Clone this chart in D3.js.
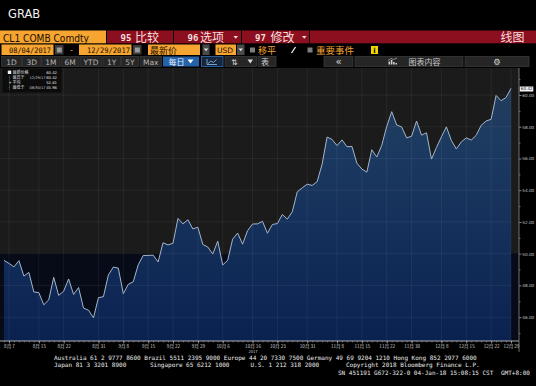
<!DOCTYPE html>
<html>
<head>
<meta charset="utf-8">
<script src="https://cdn.jsdelivr.net/npm/d3@7"></script>
<style>
  html, body { margin: 0; padding: 0; background: #000; }
  svg { display: block; }
  text { font-family: "DejaVu Sans", "Noto Sans CJK SC", sans-serif; }
  .cjk { font-family: "Noto Sans CJK SC", "DejaVu Sans", sans-serif; }
  .mono { font-family: "DejaVu Sans Mono", "Liberation Mono", monospace; }
</style>
</head>
<body>
<svg width="536" height="386"></svg>
<script>

// DATA

var dates = [
  "2017-08-04", "2017-08-07", "2017-08-08", "2017-08-09", "2017-08-10", "2017-08-11",
  "2017-08-14", "2017-08-15", "2017-08-16", "2017-08-17", "2017-08-18",
  "2017-08-21", "2017-08-22", "2017-08-23", "2017-08-24", "2017-08-25",
  "2017-08-28", "2017-08-29", "2017-08-30", "2017-08-31", "2017-09-01",
  "2017-09-05", "2017-09-06", "2017-09-07", "2017-09-08",
  "2017-09-11", "2017-09-12", "2017-09-13", "2017-09-14", "2017-09-15",
  "2017-09-18", "2017-09-19", "2017-09-20", "2017-09-21", "2017-09-22",
  "2017-09-25", "2017-09-26", "2017-09-27", "2017-09-28", "2017-09-29",
  "2017-10-02", "2017-10-03", "2017-10-04", "2017-10-05", "2017-10-06",
  "2017-10-09", "2017-10-10", "2017-10-11", "2017-10-12", "2017-10-13",
  "2017-10-16", "2017-10-17", "2017-10-18", "2017-10-19", "2017-10-20",
  "2017-10-23", "2017-10-24", "2017-10-25", "2017-10-26", "2017-10-27",
  "2017-10-30", "2017-10-31", "2017-11-01", "2017-11-02", "2017-11-03",
  "2017-11-06", "2017-11-07", "2017-11-08", "2017-11-09", "2017-11-10",
  "2017-11-13", "2017-11-14", "2017-11-15", "2017-11-16", "2017-11-17",
  "2017-11-20", "2017-11-21", "2017-11-22", "2017-11-24",
  "2017-11-27", "2017-11-28", "2017-11-29", "2017-11-30", "2017-12-01",
  "2017-12-04", "2017-12-05", "2017-12-06", "2017-12-07", "2017-12-08",
  "2017-12-11", "2017-12-12", "2017-12-13", "2017-12-14", "2017-12-15",
  "2017-12-18", "2017-12-19", "2017-12-20", "2017-12-21", "2017-12-22",
  "2017-12-26", "2017-12-27", "2017-12-28", "2017-12-29"
];

var prices = [
  49.58, 49.39, 49.17, 49.56, 48.59, 48.82,
  47.59, 47.55, 46.78, 47.09, 48.51,
  47.37, 47.64, 48.41, 47.43, 47.87,
  46.57, 46.44, 45.96, 47.23, 47.29,
  48.66, 49.16, 49.09, 47.48,
  48.07, 48.23, 49.30, 49.89, 49.89,
  49.91, 49.48, 50.69, 50.55, 50.66,
  52.22, 51.88, 52.14, 51.56, 51.67,
  50.58, 50.42, 49.98, 50.79, 49.29,
  49.58, 50.92, 51.30, 50.60, 51.45,
  51.87, 51.88, 52.04, 51.29, 51.84,
  51.90, 52.47, 52.18, 52.64, 53.90,
  54.15, 54.38, 54.30, 54.54, 55.64,
  57.35, 57.20, 56.81, 57.17, 56.74,
  56.76, 55.70, 55.33, 55.14, 56.55,
  56.09, 56.83, 58.02, 58.95,
  58.11, 57.99, 57.30, 57.40, 58.36,
  57.47, 57.62, 55.96, 56.69, 57.36,
  57.99, 57.14, 56.60, 57.04, 57.30,
  57.16, 57.46, 58.09, 58.36, 58.47,
  59.97, 59.64, 59.84, 60.42
];

var tickDates = [
  "2017-08-07", "2017-08-15", "2017-08-22", "2017-08-31", "2017-09-08", "2017-09-15",
  "2017-09-22", "2017-09-29", "2017-10-06", "2017-10-16", "2017-10-23", "2017-10-31",
  "2017-11-08", "2017-11-15", "2017-11-22", "2017-11-30", "2017-12-08", "2017-12-15",
  "2017-12-22", "2017-12-29"
];
var tickLabels = [
  "8月 7", "8月 15", "8月 22", "8月 31", "9月 8", "9月 15",
  "9月 22", "9月 29", "10月 6", "10月 16", "10月 23", "10月 31",
  "11月 8", "11月 15", "11月 22", "11月 30", "12月 8", "12月 15",
  "12月 22", "12月 29"
];
var yearLabel = "2017", yearAt = "2017-10-16";

var yTicks = [46, 48, 50, 52, 54, 56, 58, 60];
var yMinorTicks = [45, 47, 49, 51, 53, 55, 57, 59, 61];

var legendNames = ["最新价格", "最高于", "平均", "最低于"];
var legendDates = ["", "12/29/17", "", "08/30/17"];
var legendValues = [60.42, 60.42, 52.81, 45.96];
var lastValue = 60.42;


// SETUP

var svg = d3.select("svg"),
    plot = { left: 0, right: 519, top: 68, bottom: 341, dataLeft: 4, dataRight: 511 };

var x = d3.scaleLinear()
    .domain([0, prices.length - 1])
    .range([plot.dataLeft, plot.dataRight]);

var y = d3.scaleLinear()
    .domain([44.5, 61.7])
    .range([plot.bottom, plot.top]);

svg.append("rect").attr("width", 536).attr("height", 386).attr("fill", "#000");

function box(x0, y0, w, h, fill, stroke) {
    return svg.append("rect")
        .attr("x", x0).attr("y", y0).attr("width", w).attr("height", h)
        .attr("fill", fill)
        .attr("stroke", stroke || "none")
        .attr("stroke-width", stroke ? 0.8 : 0);
}

function label(x0, y0, s, size, fill, cls, extra) {
    var t = svg.append("text")
        .attr("x", x0).attr("y", y0)
        .attr("font-size", size)
        .attr("fill", fill)
        .text(s);
    if (cls) t.attr("class", cls);
    if (extra) extra(t);
    return t;
}

function caret(x0, y0, fill) {
    svg.append("path")
        .attr("d", "M" + x0 + "," + y0 + "l4.5,0l-2.25,2.8z")
        .attr("fill", fill || "#fff");
}

function num(t) { t.attr("font-weight", "bold").attr("class", "mono"); }


// TOOLBAR

label(8, 18, "GRAB", 11.5, "#f2f2f2");

// row 1
box(0, 30.5, 106, 12.8, "#f7a531");
label(3, 41.5, "CL1 COMB Comdty", 10.5, "#1a0e00", null, function (t) {
    t.attr("textLength", 86).attr("lengthAdjust", "spacingAndGlyphs");
});
box(107, 30.5, 66, 12.8, "#8c0f1f");
label(120.5, 40.8, "95", 9, "#f7dede", null, num);
label(135, 41.5, "比较", 12, "#f7dede", "cjk");
box(174, 30.5, 67, 12.8, "#8c0f1f");
label(187.5, 40.8, "96", 9, "#f7dede", null, num);
label(200, 41.5, "选项", 12, "#f7dede", "cjk");
caret(233.5, 36, "#f7dede");
box(242, 30.5, 67, 12.8, "#8c0f1f");
label(255, 40.8, "97", 9, "#f7dede", null, num);
label(270.5, 41.5, "修改", 12, "#f7dede", "cjk");
caret(302, 36, "#f7dede");
box(310, 30.5, 226, 12.8, "#8c0f1f");
label(500.5, 41.5, "线图", 12, "#f7dede", "cjk");

// row 2
box(1.5, 44.5, 52, 10.5, "#f7a531");
label(9, 52.8, "08/04/2017", 7.5, "#1a0e00", "mono", function (t) {
    t.attr("textLength", 42).attr("lengthAdjust", "spacingAndGlyphs");
});
box(55, 45, 8.5, 9.5, "#3b3b3b");
box(56.8, 47.5, 5, 5, "#9a9a9a");
label(70, 52.5, "-", 8, "#f7a531");
box(79, 44.5, 52.5, 10.5, "#f7a531");
label(87, 52.8, "12/29/2017", 7.5, "#1a0e00", "mono", function (t) {
    t.attr("textLength", 43).attr("lengthAdjust", "spacingAndGlyphs");
});
box(133, 45, 8.5, 9.5, "#3b3b3b");
box(134.8, 47.5, 5, 5, "#9a9a9a");
box(148, 44.5, 52, 10.5, "#f7a531");
label(150, 53.5, "最新价", 9, "#1a0e00", "cjk");
box(202.5, 44.5, 7, 10.5, "#4a4a4a");
caret(203.8, 48.5, "#e0e0e0");
box(215.5, 44.5, 20.5, 10.5, "#f7a531");
label(217, 52.8, "USD", 7.5, "#1a0e00");
box(237, 44.5, 7.5, 10.5, "#4a4a4a");
caret(238.5, 48.5, "#e0e0e0");
box(250, 47.5, 5, 5, "#7c7c7c");
label(258, 53.5, "移平", 9, "#f7a531", "cjk");
svg.append("line").attr("x1", 291.5).attr("y1", 53).attr("x2", 295.5).attr("y2", 47)
    .attr("stroke", "#f0f0f0").attr("stroke-width", 1.3);
box(307.5, 47.5, 5, 5, "#7c7c7c");
label(316, 53.5, "重要事件", 9.5, "#f7a531", "cjk");
box(371, 46, 7, 8, "#f2d500");
label(373.3, 53, "i", 7, "#000", null, function (t) { t.attr("font-weight", "bold"); });

// row 3
var periodButtons = [["1D", 1.5, 20], ["3D", 22.5, 18.5], ["1M", 41.5, 18.5], ["6M", 61, 18],
    ["YTD", 80, 22], ["1Y", 103, 17.5], ["5Y", 121.5, 17], ["Max", 140, 21.5]];
periodButtons.forEach(function (b) {
    box(b[1], 56.5, b[2], 10, "#262626", "#3a3a3a");
    label(b[1] + b[2] / 2, 64.5, b[0], 7.5, "#b4b4b4", null, function (t) {
        t.attr("text-anchor", "middle");
    });
});
box(163, 56.5, 36, 10, "#2563a8");
label(168.5, 64.8, "每日", 8, "#e8f0ff", "cjk");
svg.append("path").attr("d", "M187.5,59.5l6,0l-3,4z").attr("fill", "#fff");
box(201.5, 56.5, 21.5, 10, "#17263a", "#2f6fb3");
svg.append("path").attr("d", "M207,59v5.5h10M208,63.5l3,-2.5l2.5,1.5l3,-3")
    .attr("fill", "none").attr("stroke", "#8fc0f0").attr("stroke-width", 0.8);
box(225, 56.5, 31.5, 10, "#262626", "#3a3a3a");
label(231, 64.8, "⇅", 8, "#d8d8d8");
svg.append("path").attr("d", "M247.5,59.5l5.5,0l-2.75,4z").attr("fill", "#d8d8d8");
box(258, 56.5, 18, 10, "#262626", "#3a3a3a");
label(261, 64.8, "表", 8, "#d0d0d0", "cjk");
box(324, 56.5, 29, 10, "#262626", "#3a3a3a");
label(338.5, 64.8, "«", 10, "#d8d8d8", null, function (t) { t.attr("text-anchor", "middle"); });
box(355, 56.5, 108, 10, "#262626", "#3a3a3a");
[[388.5, 3], [390.8, 4.5], [393.1, 2.5], [395.4, 1.5]].forEach(function (b) {
    box(b[0], 64.5 - b[1], 1.6, b[1], "#d0d0d0");
});
svg.append("path").attr("d", "M388,60.5l3,-2l2.5,1l3.5,-1.5")
    .attr("fill", "none").attr("stroke", "#d0d0d0").attr("stroke-width", 0.6);
label(408.5, 64.8, "图表内容", 8, "#c8c8c8", "cjk");
box(465, 56.5, 64, 10, "#262626", "#3a3a3a");
label(497, 65, "⚙", 8.5, "#d8d8d8", null, function (t) { t.attr("text-anchor", "middle"); });


// DRAWING

var defs = svg.append("defs");
var grad = defs.append("linearGradient")
    .attr("id", "fillGrad")
    .attr("gradientUnits", "userSpaceOnUse")
    .attr("x1", 0).attr("x2", 0)
    .attr("y1", y(61)).attr("y2", plot.bottom);
[[0, "#223f5e"], [0.3, "#1b3860"], [0.55, "#15315b"], [0.8, "#0f2855"], [1, "#0b2250"]]
    .forEach(function (s) {
        grad.append("stop").attr("offset", s[0]).attr("stop-color", s[1]);
    });

// plot background: grey above the 50 line, near black below
box(plot.left, plot.top, plot.right - plot.left, y(50) - plot.top, "#1b1b1b");
box(plot.left, y(50), plot.right - plot.left, plot.bottom - y(50), "#070b17");

var area = d3.area()
    .x(function (d, i) { return x(i); })
    .y0(plot.bottom)
    .y1(function (d) { return y(d); });

var line = d3.line()
    .x(function (d, i) { return x(i); })
    .y(function (d) { return y(d); });

svg.append("path")
    .datum(prices)
    .attr("d", area)
    .attr("fill", "url(#fillGrad)");

// grid
var tickIdx = tickDates.map(function (d) { return dates.indexOf(d); });

svg.append("g").selectAll("line")
    .data(yTicks)
    .enter().append("line")
    .attr("x1", plot.left).attr("x2", plot.dataRight)
    .attr("y1", function (d) { return y(d); })
    .attr("y2", function (d) { return y(d); })
    .attr("stroke", "rgba(255,255,255,0.08)")
    .attr("stroke-width", 0.8);

svg.append("g").selectAll("line")
    .data(tickIdx)
    .enter().append("line")
    .attr("x1", function (d) { return x(d); })
    .attr("x2", function (d) { return x(d); })
    .attr("y1", plot.top).attr("y2", plot.bottom)
    .attr("stroke", "rgba(255,255,255,0.08)")
    .attr("stroke-width", 0.8);

svg.append("path")
    .datum(prices)
    .attr("d", line)
    .attr("fill", "none")
    .attr("stroke", "#a3b6cb")
    .attr("stroke-width", 1);

// x axis
var xAxisG = svg.append("g")
    .attr("transform", "translate(0," + plot.bottom + ")");

xAxisG.append("g")
    .call(d3.axisBottom(x).tickValues(d3.range(prices.length)).tickSize(1.5).tickFormat(""))
    .call(function (g) { g.select(".domain").remove(); })
    .selectAll("line").attr("stroke", "#9a9a9a").attr("stroke-width", 0.5);

xAxisG.append("g")
    .call(d3.axisBottom(x).tickValues(tickIdx).tickSize(2.5).tickPadding(1)
        .tickFormat(function (d, i) { return tickLabels[i]; }))
    .call(function (g) {
        g.select(".domain").remove();
        g.selectAll("line").attr("stroke", "#cfcfcf").attr("stroke-width", 0.6);
        g.selectAll("text")
            .attr("class", "cjk")
            .attr("font-size", 4.6)
            .attr("fill", "#d0d0d0");
        g.selectAll(".tick")
            .filter(function (d) { return d === dates.indexOf(yearAt); })
            .append("text")
            .attr("class", "cjk")
            .attr("y", 9.5)
            .attr("dy", "0.71em")
            .attr("text-anchor", "middle")
            .attr("font-size", 4.2)
            .attr("fill", "#c0c0c0")
            .text(yearLabel);
    });

xAxisG.append("line")
    .attr("x1", plot.left).attr("x2", plot.right)
    .attr("stroke", "#d6d6d6").attr("stroke-width", 0.8);

// y axis
var yAxisG = svg.append("g")
    .attr("transform", "translate(" + plot.right + ",0)");

yAxisG.append("g")
    .call(d3.axisRight(y).tickValues(yMinorTicks).tickSize(1.5).tickFormat(""))
    .call(function (g) { g.select(".domain").remove(); })
    .selectAll("line").attr("stroke", "#aaa").attr("stroke-width", 0.6);

yAxisG.append("g")
    .call(d3.axisRight(y).tickValues(yTicks).tickSize(2.5).tickPadding(0.8)
        .tickFormat(d3.format(".2f")))
    .call(function (g) {
        g.select(".domain").remove();
        g.selectAll("line").attr("stroke", "#cfcfcf").attr("stroke-width", 0.6);
        g.selectAll("text").attr("font-size", 4.2).attr("fill", "#c8c8c8");
    });

yAxisG.append("line")
    .attr("y1", plot.top).attr("y2", 352)
    .attr("stroke", "#8c8c8c").attr("stroke-width", 0.8);

// last price tag
yAxisG.append("rect")
    .attr("x", 0.8).attr("y", y(lastValue) - 1.8)
    .attr("width", 13.5).attr("height", 5)
    .attr("fill", "#f4f4f4");
yAxisG.append("text")
    .attr("x", 1.8).attr("y", y(lastValue) + 0.7)
    .attr("dy", "0.35em")
    .attr("font-size", 4.2)
    .attr("fill", "#111")
    .text(d3.format(".2f")(lastValue));

// legend
box(2.5, 68.5, 59, 24, "#0c0c0c");
svg.append("line").attr("x1", 9.5).attr("x2", 9.5).attr("y1", 75.5).attr("y2", 90.5)
    .attr("stroke", "#777").attr("stroke-width", 0.4);
box(7.8, 70.6, 3.4, 3.4, "#f4f4f4");

var legend = svg.append("g").selectAll("g")
    .data(legendNames)
    .enter().append("g")
    .attr("transform", function (d, i) { return "translate(0," + (74 + i * 5) + ")"; });

legend.filter(function (d, i) { return i > 0; })
    .append("text")
    .attr("x", 8.6).attr("y", -0.2)
    .attr("font-size", 4)
    .attr("fill", "#cfcfcf")
    .text(function (d, i) { return i === 1 ? "+" : "·"; });

legend.append("text")
    .attr("class", "cjk")
    .attr("x", 12.5)
    .attr("font-size", 4)
    .attr("fill", "#e0e0e0")
    .text(function (d) { return d; });

legend.append("text")
    .attr("x", 29.5)
    .attr("font-size", 3.6)
    .attr("fill", "#d0d0d0")
    .text(function (d, i) { return legendDates[i]; });

legend.append("text")
    .attr("x", 57)
    .attr("text-anchor", "end")
    .attr("font-size", 3.8)
    .attr("fill", "#e0e0e0")
    .text(function (d, i) { return d3.format(".2f")(legendValues[i]); });


// FOOTER

var footer = [
    [54, 359.5, "Australia 61 2 9777 8600 Brazil 5511 2395 9000 Europe 44 20 7330 7500 Germany 49 69 9204 1210 Hong Kong 852 2977 6000"],
    [54, 367, "Japan 81 3 3201 8900"],
    [150, 367, "Singapore 65 6212 1000"],
    [250.5, 367, "U.S. 1 212 318 2000"],
    [346, 367, "Copyright 2018 Bloomberg Finance L.P."],
    [338, 374.5, "SN 451191 G672-322-0 04-Jan-18 15:08:15 CST"],
    [501, 374.5, "GMT+8:00"]
];
footer.forEach(function (f) {
    label(f[0], f[1], f[2], 6, "#ececec", "mono");
});

</script>
</body>
</html>
